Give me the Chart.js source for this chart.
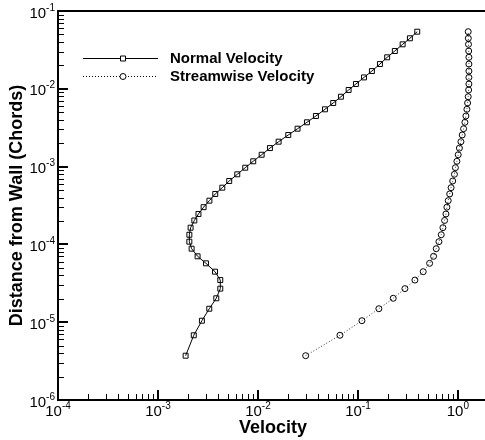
<!DOCTYPE html>
<html>
<head>
<meta charset="utf-8">
<script src="https://cdn.jsdelivr.net/npm/chart.js@4/dist/chart.umd.min.js"></script>
<style>
  html, body { margin: 0; padding: 0; background: #fff; overflow: hidden; }
  canvas { display: block; }
</style>
</head>
<body>
<canvas id="velocity-profile" width="495" height="440"></canvas>
<script>
// distance from wall (chords), shared by both series, wall -> outer edge
const distance = [
  3.71e-6, 6.79e-6, 1.045e-5, 1.49e-5, 2.03e-5, 2.70e-5, 3.48e-5, 4.46e-5, 5.71e-5, 7.03e-5,
  8.81e-5, 1.084e-4, 1.33e-4, 1.64e-4, 2.03e-4, 2.46e-4, 3.01e-4, 3.65e-4, 4.45e-4, 5.36e-4,
  6.53e-4, 7.96e-4, 9.68e-4, 1.17e-3, 1.42e-3, 1.73e-3, 2.09e-3, 2.55e-3, 3.07e-3, 3.71e-3,
  4.47e-3, 5.45e-3, 6.57e-3, 7.91e-3, 9.66e-3, 1.153e-2, 1.40e-2, 1.69e-2, 2.08e-2, 2.54e-2,
  3.06e-2, 3.73e-2, 4.46e-2, 5.42e-2
];
const normalVelocity = [
  1.89e-3, 2.28e-3, 2.75e-3, 3.26e-3, 3.83e-3, 4.20e-3, 4.20e-3, 3.72e-3, 3.02e-3, 2.49e-3,
  2.17e-3, 2.06e-3, 2.06e-3, 2.12e-3, 2.31e-3, 2.54e-3, 2.86e-3, 3.27e-3, 3.74e-3, 4.40e-3,
  5.16e-3, 6.21e-3, 7.46e-3, 8.97e-3, 1.089e-2, 1.318e-2, 1.61e-2, 2.01e-2, 2.49e-2, 3.09e-2,
  3.80e-2, 4.68e-2, 5.66e-2, 6.76e-2, 8.07e-2, 9.55e-2, 0.115, 0.138, 0.166, 0.196,
  0.234, 0.280, 0.331, 0.392
];
const streamwiseVelocity = [
  0.0300, 0.0661, 0.1096, 0.162, 0.2254, 0.295, 0.3715, 0.450, 0.521, 0.571,
  0.607, 0.646, 0.681, 0.708, 0.736, 0.759, 0.776, 0.800, 0.828, 0.855,
  0.887, 0.923, 0.944, 0.977, 1.007, 1.035, 1.072, 1.104, 1.140, 1.175,
  1.202, 1.230, 1.250, 1.268, 1.280, 1.288, 1.288, 1.288, 1.288, 1.288,
  1.282, 1.276, 1.271, 1.268
];
const seriesNames = ['Normal Velocity', 'Streamwise Velocity'];
const xTicks = [1e-4, 1e-3, 1e-2, 1e-1, 1];
const xTickExponents = ['-4', '-3', '-2', '-1', '0'];
const yTicks = [1e-6, 1e-5, 1e-4, 1e-3, 1e-2, 1e-1];
const yTickExponents = ['-6', '-5', '-4', '-3', '-2', '-1'];

const FONT = "'Liberation Sans', Arial, Helvetica, sans-serif";

function toPoints(xs) {
  return distance.map((d, i) => ({ x: xs[i], y: d }));
}

// "10" with a raised exponent, anchored at (x, baseline)
function powerLabel(ctx, exp, x, baseline, align) {
  ctx.font = '15px ' + FONT;
  const wBase = ctx.measureText('10').width;
  ctx.font = '10px ' + FONT;
  const wExp = ctx.measureText(exp).width;
  const total = wBase + wExp;
  const left = align === 'center' ? x - total / 2 : x - total;
  ctx.textAlign = 'left';
  ctx.textBaseline = 'alphabetic';
  ctx.font = '15px ' + FONT;
  ctx.fillText('10', left, baseline);
  ctx.font = '10px ' + FONT;
  ctx.fillText(exp, left + wBase, baseline - 7);
}

// frame, inward tecplot-style ticks, tick labels and the legend
const tecplotFrame = {
  id: 'tecplotFrame',
  afterDatasetsDraw(chart) {
    const { ctx, chartArea: a, scales: { x, y } } = chart;
    ctx.save();
    ctx.strokeStyle = '#000';

    // minor ticks
    ctx.lineWidth = 1;
    ctx.beginPath();
    for (let i = 0; i < xTicks.length; i++) {
      for (let k = 2; k <= 9; k++) {
        const px = Math.round(x.getPixelForValue(xTicks[i] * k)) + 0.5;
        if (px > a.right) continue;
        ctx.moveTo(px, a.bottom);
        ctx.lineTo(px, a.bottom - 6);
      }
    }
    for (let i = 0; i < yTicks.length - 1; i++) {
      for (let k = 2; k <= 9; k++) {
        const py = Math.round(y.getPixelForValue(yTicks[i] * k)) + 0.5;
        ctx.moveTo(a.left, py);
        ctx.lineTo(a.left + 6, py);
      }
    }
    ctx.stroke();

    // major ticks
    ctx.lineWidth = 2;
    ctx.beginPath();
    xTicks.forEach(v => {
      const px = Math.round(x.getPixelForValue(v));
      ctx.moveTo(px, a.bottom);
      ctx.lineTo(px, a.bottom - 10);
    });
    yTicks.forEach(v => {
      const py = Math.round(y.getPixelForValue(v));
      ctx.moveTo(a.left, py);
      ctx.lineTo(a.left + 10, py);
    });
    ctx.stroke();

    // frame
    ctx.lineWidth = 2;
    ctx.strokeRect(a.left, a.top, a.right - a.left, a.bottom - a.top);

    // tick labels
    ctx.fillStyle = '#000';
    xTicks.forEach((v, i) => {
      powerLabel(ctx, xTickExponents[i], x.getPixelForValue(v), a.bottom + 16, 'center');
    });
    yTicks.forEach((v, i) => {
      powerLabel(ctx, yTickExponents[i], a.left - 3, y.getPixelForValue(v) + 6.5, 'right');
    });

    // legend
    const rows = [a.top + 47, a.top + 65];
    chart.data.datasets.forEach((ds, i) => {
      const yy = rows[i] + 0.5;
      ctx.lineWidth = 1;
      ctx.setLineDash(ds.borderDash || []);
      ctx.beginPath();
      ctx.moveTo(a.left + 25, yy);
      ctx.lineTo(a.left + 100, yy);
      ctx.stroke();
      ctx.setLineDash([]);
      const cx = a.left + 65;
      ctx.fillStyle = '#fff';
      ctx.beginPath();
      if (ds.pointStyle === 'rect') {
        ctx.rect(cx - 2.5, yy - 2.5, 5, 5);
      } else {
        ctx.arc(cx, yy, ds.pointRadius, 0, Math.PI * 2);
      }
      ctx.fill();
      ctx.stroke();
      ctx.fillStyle = '#000';
      ctx.font = 'bold 15px ' + FONT;
      ctx.textBaseline = 'middle';
      ctx.textAlign = 'left';
      ctx.fillText(ds.label, a.left + 112, yy);
    });
    ctx.restore();
  }
};

new Chart(document.querySelector('#velocity-profile'), {
  type: 'scatter',
  data: {
    datasets: [
      {
        label: seriesNames[0],
        data: toPoints(normalVelocity),
        showLine: true,
        borderColor: '#000',
        borderWidth: 1,
        pointStyle: 'rect',
        pointRadius: 3.5,
        pointBorderWidth: 1,
        pointBackgroundColor: 'rgba(0,0,0,0)',
        pointBorderColor: '#000'
      },
      {
        label: seriesNames[1],
        data: toPoints(streamwiseVelocity),
        showLine: true,
        borderColor: '#333',
        borderWidth: 1,
        borderDash: [1, 2],
        pointStyle: 'circle',
        pointRadius: 3,
        pointBorderWidth: 1,
        pointBackgroundColor: 'rgba(0,0,0,0)',
        pointBorderColor: '#000'
      }
    ]
  },
  options: {
    responsive: false,
    animation: false,
    devicePixelRatio: 1,
    layout: { padding: { top: 11, right: 7, left: 0, bottom: 0 } },
    plugins: { legend: { display: false }, tooltip: { enabled: false } },
    elements: { line: { tension: 0 } },
    scales: {
      x: {
        type: 'logarithmic',
        min: 1e-4,
        max: 2,
        afterBuildTicks: s => { s.ticks = xTicks.map(v => ({ value: v })); },
        afterFit: s => { s.height = 40; },
        grid: { display: false, drawTicks: false },
        border: { display: false },
        ticks: { display: false },
        title: {
          display: true,
          text: 'Velocity',
          color: '#000',
          font: { family: FONT, size: 18, weight: 'bold' },
          padding: { top: 0, bottom: 1 }
        }
      },
      y: {
        type: 'logarithmic',
        min: 1e-6,
        max: 1e-1,
        afterBuildTicks: s => { s.ticks = yTicks.map(v => ({ value: v })); },
        afterFit: s => { s.width = 58; },
        grid: { display: false, drawTicks: false },
        border: { display: false },
        ticks: { display: false },
        title: {
          display: true,
          text: 'Distance from Wall (Chords)',
          color: '#000',
          font: { family: FONT, size: 18, weight: 'bold' },
          padding: { top: 6, bottom: 0 }
        }
      }
    }
  },
  plugins: [tecplotFrame]
});
</script>
</body>
</html>
